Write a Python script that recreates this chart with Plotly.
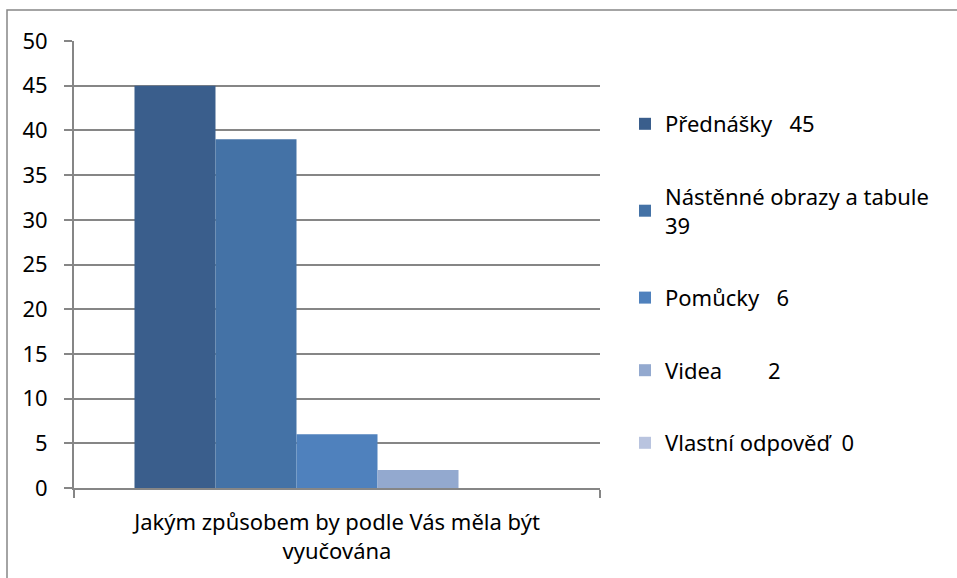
import plotly.graph_objects as go

category = ["Jakým způsobem by podle Vás měla být<br>vyučována"]
series_names = ["Přednášky   45", "Nástěnné obrazy a tabule<br>39", "Pomůcky   6", "Videa        2", "Vlastní odpověď  0"]
values = [45, 39, 6, 2, 0]
colors = ["#3A5E8C", "#4472A6", "#4F81BD", "#93A9CF", "#B9C4DF"]
y_ticks = [0, 5, 10, 15, 20, 25, 30, 35, 40, 45, 50]

W, H = 957, 578
L, R, T, B = 74, 600, 41, 488

fig = go.Figure()
for i, (name, v, c) in enumerate(zip(series_names, values, colors)):
    fig.add_trace(go.Bar(x=category, y=[v], name=name, marker=dict(color=c, line=dict(width=0)),
                         legendgroup=f"g{i}"))

gray = "#868686"
FS = 22
fig.update_layout(
    width=W, height=H,
    margin=dict(l=L, r=W - R, t=T, b=H - B, pad=0),
    paper_bgcolor="white", plot_bgcolor="white",
    font=dict(family="Noto Sans", size=FS, color="#000000"),
    barmode="group", bargap=0.23, bargroupgap=0,
    showlegend=True,
    legend=dict(x=(625 - L) / (R - L), xanchor="left", y=(B - 103) / (B - T), yanchor="top",
                tracegroupgap=41, itemwidth=30, font=dict(size=FS),
                bgcolor="rgba(0,0,0,0)"),
    xaxis=dict(showline=True, linecolor=gray, linewidth=1.8, tickson="boundaries",
               ticks="outside", ticklen=8, tickcolor=gray, tickwidth=1.8, showgrid=False,
               tickfont=dict(size=FS), ticklabelstandoff=14),
    yaxis=dict(range=[0, 50], tickvals=y_ticks, showline=True, linecolor=gray, linewidth=1.8,
               showgrid=True, gridcolor=gray, gridwidth=1.8, ticks="outside", ticklen=8,
               tickcolor=gray, tickwidth=1.8, zeroline=False, tickfont=dict(size=FS),
               ticklabelstandoff=12),
)

fig.add_shape(type="rect", xref="paper", yref="paper",
              x0=(7 - L) / (R - L), x1=(W + 5 - L) / (R - L),
              y0=(B - (H + 5)) / (B - T), y1=(B - 10) / (B - T),
              line=dict(color=gray, width=1.5), fillcolor="rgba(0,0,0,0)", layer="below")

fig.write_html("out.html", config={"displayModeBar": False},
               post_script="document.body.style.margin='0';document.body.style.overflow='hidden';")
